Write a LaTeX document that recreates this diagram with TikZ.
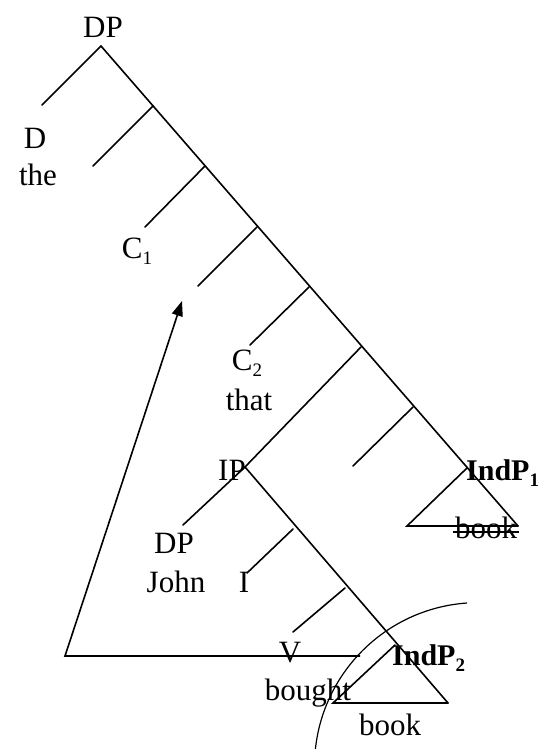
\documentclass[tikz,border=0pt]{standalone}
\usepackage{fontspec}
\setmainfont{Liberation Serif}
\usetikzlibrary{arrows.meta}
\newcommand\sbs[1]{\raisebox{-0.22em}{\fontsize{19}{19}\selectfont #1}}
\begin{document}
\begin{tikzpicture}[x=1pt,y=-1pt,
  lbl/.style={inner sep=0pt,anchor=base,font=\fontsize{31}{34}\selectfont},
  blbl/.style={lbl,anchor=base west,font=\fontsize{30}{34}\selectfont\bfseries},
  br/.style={line width=1.6pt,line cap=round},
  mv/.style={line width=1.6pt,-{Triangle[length=15pt,width=11pt]}}]
\useasboundingbox (0,0) rectangle (547,749);
% tree points
\coordinate (dp) at (101,46);
\coordinate (dleaf) at (42,105);
\coordinate (j1) at (153,106);
\coordinate (j2) at (205,166);
\coordinate (j3) at (257,227);
\coordinate (j4) at (309,287);
\coordinate (j5) at (361,347);
\coordinate (j6) at (413,407);
\coordinate (ind1) at (467,468);
\coordinate (ind1r) at (518,526);
\coordinate (ind1l) at (407,526);
\coordinate (e1) at (93,166);
\coordinate (e2) at (145,227);
\coordinate (e3) at (198,286);
\coordinate (e4) at (250,345);
\coordinate (ip) at (245,467);
\coordinate (e6) at (353,466);
\coordinate (dpj) at (183,525);
\coordinate (k1) at (293,529);
\coordinate (k2) at (345,588);
\coordinate (ei) at (247,573);
\coordinate (ev) at (293,632);
\coordinate (ind2) at (395,645);
\coordinate (ind2r) at (448,703);
\coordinate (ind2l) at (333,703);
\coordinate (corner) at (65,656);
\coordinate (tip) at (182,301);
\coordinate (hend) at (360,656);
\coordinate (arcs) at (467,603);
% branches
\draw[br] (dp) -- (dleaf);
\draw[br] (dp) -- (ind1r);
\draw[br] (j1) -- (e1);
\draw[br] (j2) -- (e2);
\draw[br] (j3) -- (e3);
\draw[br] (j4) -- (e4);
\draw[br] (j5) -- (ip) -- (dpj);
\draw[br] (j6) -- (e6);
\draw[br] (ind1) -- (ind1l) -- (ind1r);
\draw[br] (ip) -- (ind2r);
\draw[br] (k1) -- (ei);
\draw[br] (k2) -- (ev);
\draw[br] (ind2) -- (ind2l) -- (ind2r);
% movement
\draw[mv] (hend) -- (corner) -- (tip);
\draw[line width=1.2pt] (arcs) arc[start angle=-94,end angle=-176,radius=164];
% labels
\node[lbl] (tdp) at (103,38) {DP};
\node[lbl] (td) at (35,148) {D};
\node[lbl] (tthe) at (38,185) {the};
\node[lbl] (tc1) at (137,258) {C\sbs{1}};
\node[lbl] (tc2) at (247,370) {C\sbs{2}};
\node[lbl] (tthat) at (249,410) {that};
\node[lbl] (tip2) at (232,480) {IP};
\node[lbl] (tdpj) at (174,553) {DP};
\node[lbl] (tjohn) at (176,592) {John};
\node[lbl] (ti) at (244,592) {I};
\node[blbl] (tind1) at (466,480) {IndP\sbs{1}};
\node[lbl] (tbook1) at (486,538) {book};
\draw[line width=1.3pt] ([xshift=-2pt,yshift=6pt]tbook1.base west) -- ([xshift=2pt,yshift=6pt]tbook1.base east);
\node[lbl] (tv) at (290,662) {V};
\node[lbl] (tbought) at (308,700) {bought};
\node[blbl] (tind2) at (392,665) {IndP\sbs{2}};
\node[lbl] (tbook2) at (390,735) {book};
\end{tikzpicture}
\end{document}
